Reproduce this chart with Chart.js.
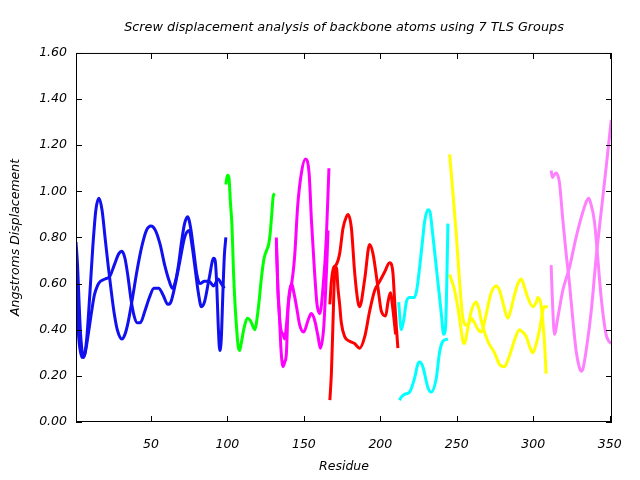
<!DOCTYPE html>
<html>
<head>
<meta charset="utf-8">
<script src="https://cdn.jsdelivr.net/npm/chart.js"></script>
<style>
  html, body { margin: 0; padding: 0; background: #fff; }
  #wrap { width: 640px; height: 480px; }
</style>
</head>
<body>
<div id="wrap"><canvas id="tls"></canvas></div>
<script>
// tick labels
const xTicks = [50, 100, 150, 200, 250, 300, 350];
const yTicks = [0, 0.2, 0.4, 0.6, 0.8, 1.0, 1.2, 1.4, 1.6];

// [residue, displacement], two curves per TLS group
const blueA = [[1,0.78],[2,0.68],[3,0.52],[4,0.38],[6,0.28],[8,0.36],[10,0.55],[12,0.76],[14,0.92],[16,0.97],[18,0.92],[20,0.80],[22,0.68],[24,0.57],[26,0.47],[28,0.40],[31,0.36],[33,0.38],[35,0.43],[38,0.54],[41,0.66],[44,0.76],[47,0.83],[50,0.85],[53,0.83],[56,0.77],[59,0.68],[62,0.61],[64,0.58],[66,0.61],[68,0.68],[70,0.78],[72,0.86],[74,0.89],[76,0.84],[78,0.74],[80,0.64],[82,0.60],[85,0.61],[88,0.61],[91,0.59],[94,0.62],[96,0.60],[98,0.58]];
const blueB = [[1,0.60],[2,0.45],[3,0.35],[5,0.28],[7,0.30],[9,0.38],[11,0.47],[13,0.55],[15,0.59],[17,0.61],[20,0.62],[23,0.63],[26,0.68],[29,0.73],[31,0.74],[33,0.71],[35,0.63],[37,0.53],[39,0.46],[41,0.43],[43,0.43],[46,0.48],[49,0.54],[52,0.58],[55,0.58],[58,0.55],[61,0.51],[63,0.52],[66,0.60],[69,0.70],[72,0.80],[75,0.83],[77,0.76],[79,0.66],[81,0.56],[83,0.50],[85,0.52],[88,0.62],[91,0.71],[92,0.70],[93,0.60],[94,0.42],[95,0.31],[96,0.36],[97,0.55],[98,0.72],[99,0.80]];
const green = [[99,1.03],[100,1.07],[101,1.06],[102,0.95],[103,0.85],[104,0.65],[105,0.51],[106,0.41],[107,0.33],[108,0.31],[109,0.34],[111,0.41],[113,0.45],[115,0.44],[117,0.41],[118,0.40],[119,0.43],[121,0.54],[122,0.61],[124,0.71],[126,0.75],[127,0.77],[128,0.82],[129,0.90],[130,0.98],[131,0.99]];
const magentaA = [[132,0.80],[133,0.58],[134,0.47],[135,0.32],[136.4,0.24],[137.5,0.26],[138.6,0.30],[139.7,0.50],[141,0.58],[142,0.60],[144,0.72],[146,0.94],[148.4,1.08],[151,1.14],[153.4,1.08],[155,0.87],[157,0.65],[158.6,0.51],[160.4,0.47],[162.5,0.58],[164.7,0.80],[166.4,1.10]];
const magentaB = [[132,0.78],[133,0.58],[134,0.46],[135,0.40],[136.4,0.38],[137.5,0.36],[138.6,0.42],[139.7,0.50],[141,0.57],[142,0.60],[143.5,0.56],[145.2,0.50],[147.3,0.42],[149.9,0.39],[152.7,0.44],[154.9,0.47],[157.1,0.44],[159.3,0.37],[160.8,0.32],[163,0.41],[164.3,0.58],[165.1,0.70],[165.8,0.83]];
const redA = [[167,0.095],[168,0.21],[169,0.42],[170.2,0.65],[171.3,0.67],[172.3,0.58],[173.4,0.51],[174.5,0.43],[176.7,0.37],[180,0.35],[183.2,0.34],[186.5,0.32],[189.8,0.37],[193,0.48],[196.3,0.57],[199.6,0.61],[202.8,0.65],[206.1,0.69],[208.2,0.65],[209.4,0.52],[210.5,0.41],[211.5,0.32]];
const redB = [[167,0.51],[168,0.61],[169.5,0.67],[171,0.68],[173.4,0.73],[175.6,0.84],[177.8,0.89],[178.9,0.90],[181.1,0.84],[183.2,0.65],[185.4,0.52],[186.5,0.50],[189.8,0.62],[193,0.77],[195.2,0.73],[198.5,0.58],[200.7,0.48],[203.5,0.46],[205,0.52],[206.6,0.56],[208.2,0.49],[210,0.38]];
const cyanA = [[212,0.52],[213.7,0.40],[215.5,0.45],[217,0.52],[219.2,0.54],[222.4,0.54],[224,0.58],[225.7,0.67],[227.5,0.78],[229,0.87],[231.1,0.92],[232.5,0.91],[234,0.83],[235.5,0.74],[237.6,0.61],[239.9,0.47],[241.4,0.38],[242.5,0.40],[243.2,0.52],[244.2,0.86]];
const cyanB = [[212.5,0.095],[214,0.11],[215.9,0.12],[219.2,0.13],[222.4,0.19],[224.5,0.25],[225.7,0.26],[227.8,0.24],[231.1,0.15],[233.3,0.13],[236.6,0.19],[238.7,0.30],[240.9,0.35],[244.2,0.36]];
const yellowA = [[245.3,1.16],[247.4,1.00],[249.7,0.81],[251.8,0.61],[254,0.45],[256.2,0.42],[258,0.43],[259.5,0.45],[261.6,0.43],[264,0.40],[266,0.39],[268,0.43],[270.3,0.50],[272.5,0.56],[275.8,0.59],[278,0.57],[280.1,0.52],[283.4,0.45],[285.5,0.49],[287.7,0.55],[290,0.60],[292.1,0.62],[294,0.59],[296.4,0.54],[299.7,0.50],[302,0.52],[303,0.54],[305,0.51],[307.3,0.35],[308.4,0.21]];
const yellowB = [[245.3,0.64],[248.6,0.57],[251.8,0.45],[254,0.35],[255.1,0.34],[256.5,0.38],[258.4,0.45],[260.5,0.50],[262.7,0.52],[264.5,0.49],[266,0.44],[270.3,0.35],[274.7,0.30],[277.9,0.25],[281.2,0.24],[283.5,0.27],[285.6,0.31],[288,0.36],[291,0.40],[293,0.39],[295.4,0.37],[298,0.32],[299.7,0.30],[302,0.34],[304.1,0.40],[307.3,0.50],[309.5,0.50]];
const violetA = [[311.7,1.09],[312.5,1.06],[313.5,1.07],[315,1.08],[316,1.07],[317.1,1.04],[319.3,0.88],[321.5,0.73],[323.7,0.60],[325.8,0.45],[328,0.31],[330,0.24],[331.3,0.22],[332.5,0.23],[334.6,0.31],[337.9,0.48],[341.1,0.71],[344.4,0.91],[347.6,1.10],[351,1.31]];
const violetB = [[311.7,0.68],[312.7,0.50],[313.9,0.38],[316,0.45],[319.3,0.57],[323.7,0.67],[328,0.80],[332.4,0.91],[335,0.96],[336.3,0.97],[337.5,0.95],[340,0.87],[342.2,0.71],[344.4,0.54],[347.6,0.38],[349.5,0.35],[351,0.34]];

const groups = [
  [blueA, "#1010f0"], [blueB, "#1010f0"],
  [green, "#00ff00"],
  [magentaA, "#ff00ff"], [magentaB, "#ff00ff"],
  [redA, "#ff0000"], [redB, "#ff0000"],
  [cyanA, "#00ffff"], [cyanB, "#00ffff"],
  [yellowA, "#ffff00"], [yellowB, "#ffff00"],
  [violetA, "#ff80ff"], [violetB, "#ff80ff"]
];

const FONT = "'DejaVu Sans', sans-serif";

// gnuplot style box with inward ticks on all four sides
const frame = {
  id: "frame",
  afterDraw(chart) {
    const ctx = chart.ctx, a = chart.chartArea;
    const xs = chart.scales.x, ys = chart.scales.y;
    ctx.save();
    ctx.strokeStyle = "#000";
    ctx.lineWidth = 1;
    ctx.strokeRect(a.left + 0.5, a.top + 0.5, a.right - a.left - 1, a.bottom - a.top - 1);
    ctx.beginPath();
    xs.ticks.forEach(t => {
      const px = Math.round(xs.getPixelForValue(t.value)) + 0.5;
      ctx.moveTo(px, a.bottom); ctx.lineTo(px, a.bottom - 6);
      ctx.moveTo(px, a.top); ctx.lineTo(px, a.top + 6);
    });
    ys.ticks.forEach(t => {
      const py = Math.round(ys.getPixelForValue(t.value)) + 0.5;
      ctx.moveTo(a.left, py); ctx.lineTo(a.left + 6, py);
      ctx.moveTo(a.right, py); ctx.lineTo(a.right - 6, py);
    });
    ctx.stroke();
    ctx.restore();
  }
};

new Chart(document.getElementById("tls"), {
  type: "line",
  data: {
    datasets: groups.map(g => ({
      data: g[0].map(p => ({ x: p[0], y: p[1] })),
      borderColor: g[1],
      borderWidth: 3,
      pointRadius: 0,
      fill: false,
      cubicInterpolationMode: "monotone"
    }))
  },
  options: {
    responsive: true,
    maintainAspectRatio: false,
    animation: false,
    layout: { padding: { left: 0, right: 28, top: 0, bottom: 0 } },
    plugins: {
      legend: { display: false },
      tooltip: { enabled: false },
      title: {
        display: true,
        fullSize: false,
        text: "Screw displacement analysis of backbone atoms using 7 TLS Groups",
        color: "#000",
        font: { family: FONT, size: 12.8, style: "italic", weight: "normal" },
        padding: { top: 19.5, bottom: 18.1 }
      }
    },
    scales: {
      x: {
        type: "linear",
        min: 1,
        max: 351.5,
        grid: { display: false, drawTicks: false },
        border: { display: false },
        afterBuildTicks: s => { s.ticks = xTicks.map(v => ({ value: v })); },
        afterFit: s => { s.height = 58; },
        ticks: {
          color: "#000",
          padding: 15,
          maxRotation: 0,
          font: { family: FONT, size: 12.5, style: "italic" },
          callback: v => String(v)
        },
        title: {
          display: true,
          text: "Residue",
          color: "#000",
          font: { family: FONT, size: 12.5, style: "italic" },
          padding: { bottom: 6 }
        }
      },
      y: {
        min: 0,
        max: 1.6,
        grid: { display: false, drawTicks: false },
        border: { display: false },
        afterBuildTicks: s => { s.ticks = yTicks.map(v => ({ value: v })); },
        afterFit: s => { s.width = 76; },
        ticks: {
          color: "#000",
          padding: 9,
          font: { family: FONT, size: 12.5, style: "italic" },
          callback: v => Number(v).toFixed(2)
        },
        title: {
          display: true,
          text: "Angstroms Displacement",
          color: "#000",
          font: { family: FONT, size: 12.5, style: "italic" },
          padding: { top: 8 }
        }
      }
    }
  },
  plugins: [frame]
});
</script>
</body>
</html>
